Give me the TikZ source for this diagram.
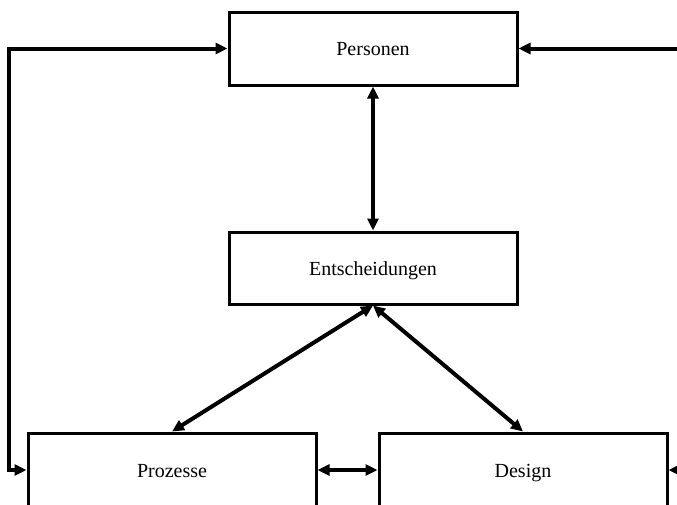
\documentclass[tikz,border=0pt]{standalone}
\usepackage{fontspec}
\setmainfont{Liberation Serif}
\usetikzlibrary{arrows.meta}
\begin{document}
\begin{tikzpicture}[x=1pt,y=1pt,
  box/.style={draw=black,line width=3pt,rectangle,minimum width=288pt,inner sep=0pt,text height=14pt,text depth=0pt,font=\fontsize{20}{23}\selectfont},
  conn/.style={line width=4pt,{Triangle[length=12pt,width=11pt]}-{Triangle[length=12pt,width=11pt]}}]
\useasboundingbox (0,0) rectangle (677,-504);
\clip (0,0) rectangle (677,-504);
\node[box,minimum height=73pt] (pers) at (373,-48.5) {Personen};
\node[box,minimum height=72pt] (ent) at (373,-268) {Entscheidungen};
\node[box,minimum height=74pt] (proz) at (172,-470) {Prozesse};
\node[box,minimum height=74pt] (des) at (523,-470) {Design};
\coordinate (lt) at (9,-48.5);
\coordinate (lb) at (9,-470);
\coordinate (rt) at (700,-48.5);
\coordinate (rb) at (700,-470);
\draw[conn] (pers.south) -- (ent.north);
\draw[conn] (ent.south) -- (proz.north);
\draw[conn] (ent.south) -- (des.north);
\draw[conn] (proz.east) -- (des.west);
\draw[conn,line join=miter] (proz.west) -- (lb) -- (lt) -- (pers.west);
\draw[conn,line join=miter] (des.east) -- (rb) -- (rt) -- (pers.east);
\end{tikzpicture}
\end{document}
